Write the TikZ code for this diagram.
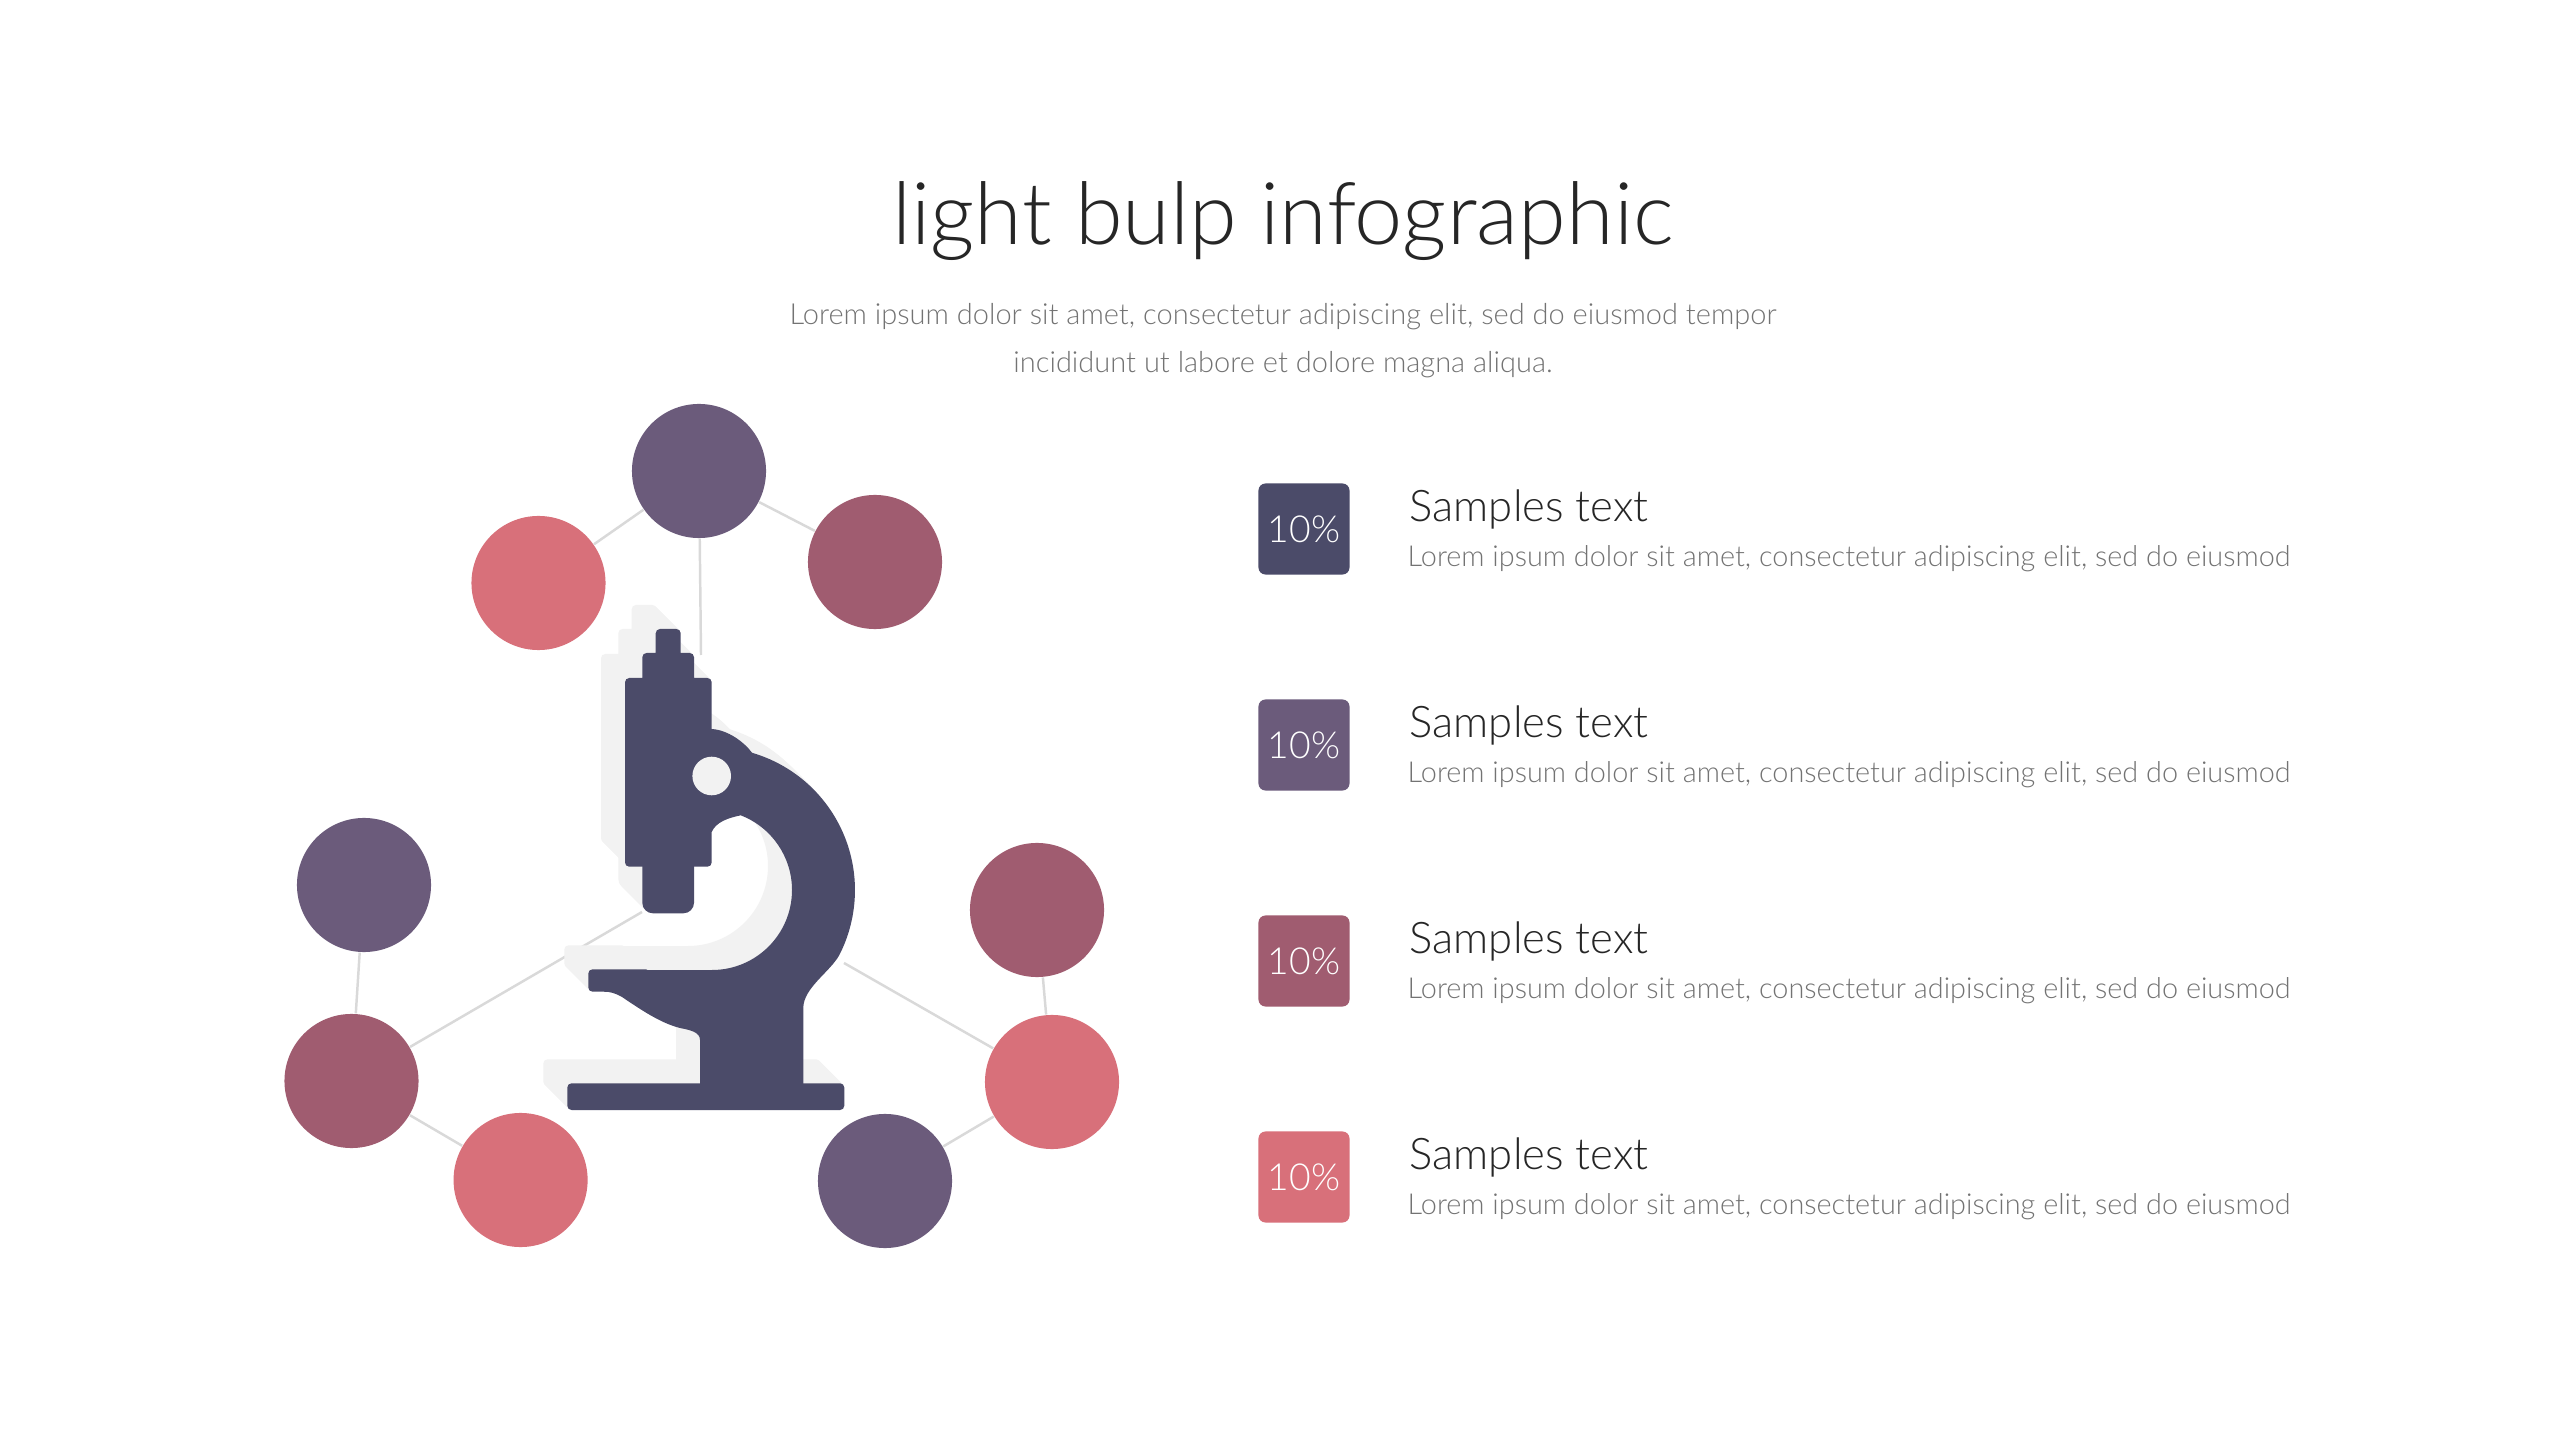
\documentclass[tikz,border=0pt]{standalone}
\usepackage{fontspec}
\setmainfont{Lato Light}
\usepackage{tkz-euclide}
\definecolor{ink}{HTML}{4B4B69}
\definecolor{plum}{HTML}{6B5B7B}
\definecolor{wine}{HTML}{A05C70}
\definecolor{rose}{HTML}{D8707A}
\definecolor{haze}{HTML}{F2F2F2}
\definecolor{wire}{HTML}{D9D9D9}
\definecolor{txt}{HTML}{262626}
\definecolor{mute}{HTML}{737373}
\tikzset{
  ball/.style={circle, minimum size=1.34cm, inner sep=0pt},
  link/.style={draw=wire, line width=0.7pt},
  pct/.style={rounded corners=2pt, minimum size=0.91cm, inner sep=0pt, text=white, font=\fontsize{10.6}{13}\selectfont},
  head/.style={anchor=base west, inner sep=0pt, text=txt, font=\fontsize{12.4}{15}\selectfont},
  note/.style={anchor=base west, inner sep=0pt, text=mute, font=\fontsize{8.2}{10}\selectfont},
}
\newcommand\microshape[1]{%
  \fill[#1, rounded corners=1.2pt] (655.7,629) rectangle (680.7,662)
    (642.3,653) rectangle (694,688) (625,678) rectangle (711.7,866.7)
    (588.3,969.3) rectangle (650,991.7) (567.3,1083.3) rectangle (844.3,1110);
  \fill[#1, rounded corners=3pt] (642.3,855) rectangle (694,913.3);
  \fill[#1] (705,729) -- (711.7,729) .. controls (728,730) and (744,742) .. (752.1,752.8)
    arc[start angle=-73.7, end angle=27, radius=143]
    .. controls (830,972) and (803.3,988) .. (803.3,1008) -- (803.3,1090) -- (700,1090)
    -- (700,1040) .. controls (700,1032) and (690,1030) .. (680,1028)
    .. controls (660,1023) and (640,1009) .. (622,997) .. controls (615,993) and (610,991.7) .. (604,991.7)
    -- (604,970) -- (712,970) arc[start angle=90, end angle=-69, radius=80]
    .. controls (728,818) and (716,822) .. (711.7,832) -- (705,832) -- cycle;}
\begin{document}
\begin{tikzpicture}[x=0.01cm, y=-0.01cm]
                \fill[white] (0,0) rectangle (2560,1440);
                \useasboundingbox (0,0) rectangle (2560,1440);
                \tkzDefPoints{699/471/T,538.5/583/Tl,875/562/Tr,364/885/Lu,351.5/1081/L,520.6/1180/Lb,1037/910/Ru,1052/1082/R,885/1181/Rb}
                \tkzDefPoints{701/655/eT,642/912/eL,844/963/eR}
                \foreach \p/\c in {T/plum,Tl/rose,Tr/wine,Lu/plum,L/wine,Lb/rose,Ru/wine,R/rose,Rb/plum}
                  \node[ball, fill=\c] (n\p) at (\p) {};
                \foreach \a/\b in {eT/nT,eL/nL,eR/nR,nT/nTl,nT/nTr,nLu/nL,nL/nLb,nRu/nR,nR/nRb}
                  \draw[link] (\a) -- (\b);
                \foreach \k in {1,...,24}
                  {\microshape{haze, shift={(-\k,-\k)}}}
                \microshape{ink}
                \fill[haze] (711.7,776) circle[radius=19.3];
                \node[font=\fontsize{24.6}{30}\selectfont, text=txt, anchor=base, inner sep=0pt] (title) at (1283,245) {light bulp infographic};
                \node[font=\fontsize{8.25}{10}\selectfont, text=mute, anchor=base, inner sep=0pt] (sub1) at (1283,325) {Lorem ipsum dolor sit amet, consectetur adipiscing elit, sed do eiusmod tempor};
                \node[font=\fontsize{8.25}{10}\selectfont, text=mute, anchor=base, inner sep=0pt] (sub2) at (1283,372.7) {incididunt ut labore et dolore magna aliqua.};
                \foreach \c [count=\i from 0] in {ink,plum,wine,rose} {
                  \node[pct, fill=\c] (p\i) at (1304,{529+216*\i}) {10\%};
                  \node[head] (h\i) at (1409,{521.7+216*\i}) {Samples text};
                  \node[note] (d\i) at (1407,{566.7+216*\i}) {Lorem ipsum dolor sit amet, consectetur adipiscing elit, sed do eiusmod};
                }
\end{tikzpicture}
\end{document}
